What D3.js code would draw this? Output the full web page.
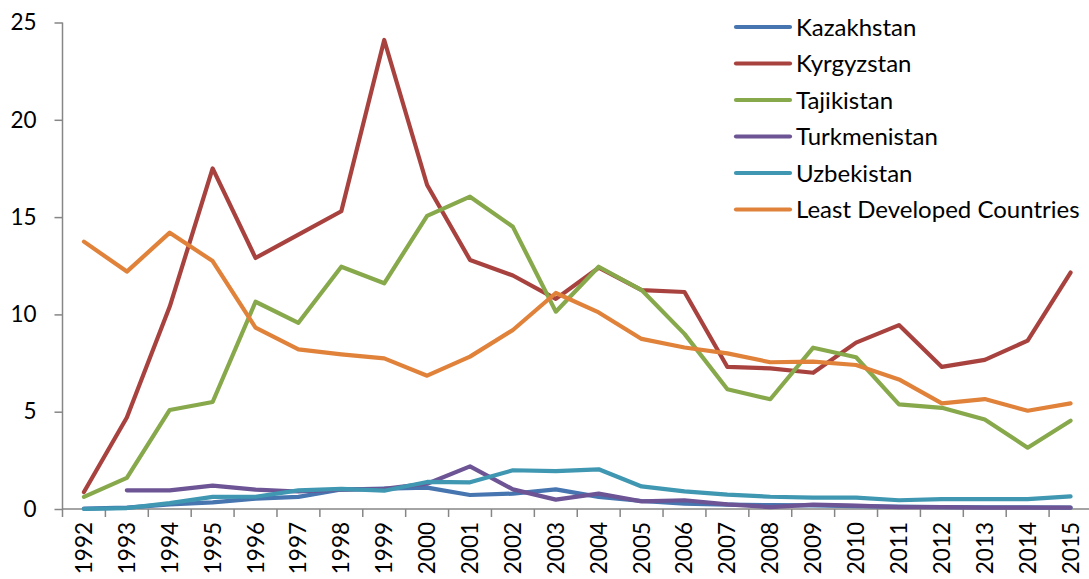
<!DOCTYPE html>
<html>
<head>
<meta charset="utf-8">
<script src="https://cdn.jsdelivr.net/npm/d3@7"></script>
<style>
  body { margin: 0; background: #fff; }
  svg text { font-family: Lato, "Open Sans", sans-serif; fill: #000; }
</style>
</head>
<body>
<div id="chart"></div>
<script>
// years on the category axis
const years = d3.range(1992, 2016).map(String);

// series values (null = no data)
const kazakhstan = [0.02, 0.07, 0.24, 0.34, 0.53, 0.62, 1.0, 1.05, 1.1, 0.72, 0.79, 1.01,
  0.62, 0.41, 0.27, 0.22, 0.2, 0.19, 0.15, 0.12, 0.1, 0.09, 0.09, 0.07];
const kyrgyzstan = [0.87, 4.7, 10.4, 17.5, 12.9, 14.1, 15.3, 24.1, 16.65, 12.8, 12.0, 10.8,
  12.4, 11.25, 11.15, 7.3, 7.23, 7.0, 8.55, 9.45, 7.3, 7.66, 8.65, 12.15];
const tajikistan = [0.62, 1.6, 5.09, 5.5, 10.65, 9.57, 12.45, 11.6, 15.06, 16.05, 14.5, 10.14,
  12.45, 11.25, 9.0, 6.15, 5.64, 8.29, 7.8, 5.38, 5.2, 4.6, 3.15, 4.54];
const turkmenistan = [null, 0.96, 0.96, 1.2, 1.0, 0.9, 1.0, 1.04, 1.3, 2.19, 1.01, 0.48,
  0.79, 0.39, 0.45, 0.24, 0.1, 0.22, 0.17, 0.1, 0.1, 0.07, 0.07, 0.07];
const uzbekistan = [0.0, 0.05, 0.3, 0.62, 0.63, 0.96, 1.03, 0.94, 1.39, 1.37, 1.99, 1.95,
  2.04, 1.16, 0.91, 0.74, 0.63, 0.58, 0.58, 0.45, 0.51, 0.51, 0.51, 0.65];
const leastDeveloped = [13.74, 12.2, 14.2, 12.74, 9.32, 8.2, 7.95, 7.74, 6.85, 7.83, 9.2, 11.1,
  10.1, 8.74, 8.3, 8.0, 7.54, 7.57, 7.4, 6.66, 5.43, 5.65, 5.05, 5.43];

const seriesNames = ["Kazakhstan", "Kyrgyzstan", "Tajikistan", "Turkmenistan", "Uzbekistan", "Least Developed Countries"];
const seriesValues = [kazakhstan, kyrgyzstan, tajikistan, turkmenistan, uzbekistan, leastDeveloped];
const seriesColors = ["#4675b0", "#a8423f", "#87a94b", "#6c5495", "#3f97b1", "#e0823a"];
const yTicks = [0, 5, 10, 15, 20, 25];

const width = 1089, height = 579;
const plotLeft = 62.5, plotRight = 1092, plotTop = 22.5, plotBottom = 509;

const svg = d3.select("#chart").append("svg")
  .attr("width", width)
  .attr("height", height);

const x = d3.scaleBand().domain(years).range([plotLeft, plotRight]);
const y = d3.scaleLinear().domain([0, 25]).range([plotBottom, plotTop]);

// y axis
const yAxis = svg.append("g")
  .attr("transform", `translate(${plotLeft},0)`)
  .call(d3.axisLeft(y).tickValues(yTicks).tickSize(8).tickPadding(18));
yAxis.selectAll("path, line").attr("stroke", "#868686").attr("stroke-width", 1.5);
yAxis.selectAll("text").attr("font-size", 22.5).attr("fill", "#000");
yAxis.select(".domain").attr("d", `M0,${plotBottom}V${plotTop}`);

// x axis: ticks sit between categories
const xAxis = svg.append("g").attr("transform", `translate(0,${plotBottom})`);
xAxis.append("line")
  .attr("x1", plotLeft).attr("x2", plotRight)
  .attr("stroke", "#868686").attr("stroke-width", 1.5);
xAxis.selectAll(".tick")
  .data(years)
  .enter().append("line")
  .attr("x1", d => x(d)).attr("x2", d => x(d))
  .attr("y1", 0).attr("y2", 8)
  .attr("stroke", "#868686").attr("stroke-width", 1.5);
xAxis.selectAll(".label")
  .data(years)
  .enter().append("text")
  .attr("transform", d => `translate(${x(d) + x.bandwidth() / 2 + 8},13) rotate(-90)`)
  .attr("text-anchor", "end")
  .attr("font-size", 22.5)
  .text(d => d);

// lines
const line = d3.line()
  .defined(d => d != null)
  .x((d, i) => x(years[i]) + x.bandwidth() / 2)
  .y(d => y(d));

svg.selectAll(".series")
  .data(seriesValues)
  .enter().append("path")
  .attr("fill", "none")
  .attr("stroke", (d, i) => seriesColors[i])
  .attr("stroke-width", 4.2)
  .attr("stroke-linejoin", "round")
  .attr("stroke-linecap", "round")
  .attr("d", d => line(d));

// legend
const legend = svg.append("g");
const rows = legend.selectAll("g")
  .data(seriesNames)
  .enter().append("g")
  .attr("transform", (d, i) => `translate(736,${27 + i * 36.5})`);
rows.append("line")
  .attr("x1", 0).attr("x2", 54)
  .attr("stroke", (d, i) => seriesColors[i])
  .attr("stroke-width", 4.2)
  .attr("stroke-linecap", "round");
rows.append("text")
  .attr("x", 60)
  .attr("dy", "0.36em")
  .attr("font-size", 24)
  .text(d => d);
</script>
</body>
</html>
